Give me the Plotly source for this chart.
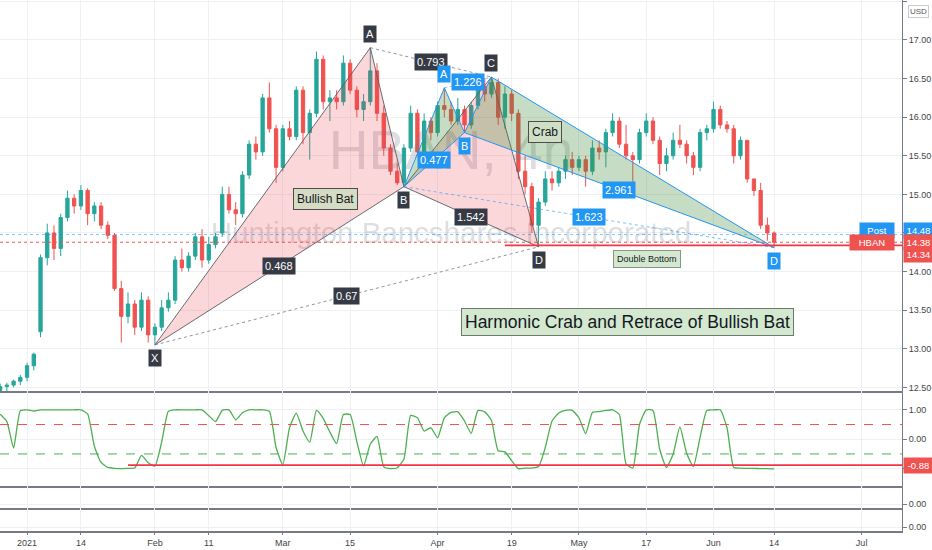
import pandas as pd
import plotly.graph_objects as go
from plotly.subplots import make_subplots

# ------------------------------------------------
# Calendar: one bar per NYSE session (index axis, like TradingView)
# ------------------------------------------------
holidays = ["2021-01-01", "2021-01-18", "2021-02-15", "2021-04-02", "2021-05-31"]
sessions = [d.strftime("%Y-%m-%d") for d in pd.bdate_range("2020-12-28", "2021-07-09")
            if d.strftime("%Y-%m-%d") not in holidays]
bar = {d: i for i, d in enumerate(sessions)}

# ------------------------------------------------
# Data - HBAN, Dec 28 2020 .. Jun 14 2021
# ------------------------------------------------
opens = [
    12.46, 12.51, 12.53, 12.58,
    12.63, 12.78, 13.22, 14.18, 14.50, 14.30, 14.70, 14.95, 14.85, 15.05,
    14.75, 14.85, 14.60, 14.47, 13.78, 13.42, 13.58, 13.28, 13.63, 13.18,
    13.28, 13.53, 13.63, 14.15, 14.05, 14.20, 14.45, 14.15, 14.35, 14.50,
    15.00, 14.80, 14.75, 15.25, 15.65, 15.55, 16.25, 15.85, 15.35, 15.85,
    15.75, 16.35, 15.80, 16.05, 16.75, 16.20, 16.25, 16.20, 16.70, 16.35,
    16.10, 16.20, 16.60, 16.05, 15.60, 15.30, 15.15, 15.60, 16.05, 15.55,
    15.95, 15.80, 16.15, 16.10, 15.95, 16.10, 15.90, 16.15, 16.40, 16.30,
    16.45, 16.00, 16.30, 16.05, 15.30, 15.10, 14.60, 14.90, 15.20, 15.15,
    15.30, 15.45, 15.35, 15.45, 15.30, 15.60, 15.55, 15.80, 15.95, 15.65,
    15.50, 15.45, 15.80, 15.95, 15.70, 15.40, 15.50, 15.70, 15.65, 15.50,
    15.35, 15.80, 15.85, 16.10, 15.90, 15.85, 15.50, 15.70, 15.20, 15.05, 14.60, 14.50,
]
highs = [
    12.55, 12.56, 12.60, 12.66,
    12.82, 12.95, 14.22, 14.62, 14.60, 14.75, 15.05, 15.00, 15.12, 15.08,
    14.90, 14.90, 14.65, 14.50, 13.88, 13.73, 13.63, 13.73, 13.68, 13.33,
    13.63, 13.73, 14.20, 14.30, 14.25, 14.50, 14.55, 14.45, 14.50, 15.10,
    15.10, 14.90, 15.30, 15.70, 15.75, 16.30, 16.45, 15.90, 15.90, 15.95,
    16.40, 16.40, 16.10, 16.85, 16.80, 16.35, 16.35, 16.80, 16.75, 16.40,
    16.30, 16.90, 16.70, 16.15, 15.65, 15.40, 15.65, 16.15, 16.10, 16.05,
    16.00, 16.20, 16.38, 16.20, 16.25, 16.15, 16.20, 16.45, 16.50, 16.52,
    16.50, 16.40, 16.35, 16.10, 15.50, 15.15, 14.95, 15.30, 15.30, 15.35,
    15.50, 15.55, 15.50, 15.50, 15.70, 15.70, 15.85, 16.05, 16.00, 15.90,
    15.55, 15.85, 16.05, 16.00, 15.75, 15.60, 15.80, 15.90, 15.70, 15.55,
    15.85, 15.90, 16.20, 16.15, 15.95, 15.90, 15.75, 15.70, 15.20, 15.15, 14.70, 14.52,
]
lows = [
    12.43, 12.45, 12.50, 12.53,
    12.58, 12.72, 13.15, 14.08, 14.15, 14.20, 14.65, 14.75, 14.80, 14.60,
    14.65, 14.55, 14.42, 13.75, 13.08, 13.33, 13.18, 13.23, 13.08, 13.05,
    13.23, 13.48, 13.58, 14.00, 14.00, 14.15, 14.05, 14.10, 14.30, 14.45,
    14.75, 14.60, 14.70, 15.20, 15.45, 15.50, 15.80, 15.15, 15.30, 15.70,
    15.70, 15.65, 15.45, 16.00, 16.10, 15.95, 16.10, 16.15, 16.30, 16.00,
    15.95, 16.15, 15.95, 15.50, 15.25, 15.12, 15.10, 15.55, 15.50, 15.50,
    15.70, 15.75, 16.00, 15.90, 15.90, 15.80, 15.85, 16.10, 16.20, 16.25,
    15.90, 15.85, 15.95, 15.20, 15.00, 14.50, 14.32, 14.85, 15.05, 15.10,
    15.20, 15.25, 15.30, 15.10, 15.25, 15.45, 15.35, 15.75, 15.60, 15.45,
    15.15, 15.40, 15.75, 15.65, 15.25, 15.30, 15.45, 15.60, 15.40, 15.25,
    15.30, 15.70, 15.80, 15.85, 15.80, 15.40, 15.45, 15.15, 14.98, 14.55, 14.40, 14.31,
]
closes = [
    12.51, 12.53, 12.58, 12.63,
    12.78, 12.93, 14.18, 14.50, 14.30, 14.70, 14.95, 14.85, 15.05, 14.75,
    14.85, 14.60, 14.47, 13.78, 13.42, 13.58, 13.28, 13.63, 13.18, 13.28,
    13.53, 13.63, 14.15, 14.05, 14.20, 14.45, 14.15, 14.35, 14.45, 15.00,
    14.80, 14.75, 15.25, 15.65, 15.55, 16.25, 15.85, 15.35, 15.85, 15.75,
    16.35, 15.80, 16.05, 16.75, 16.20, 16.25, 16.20, 16.70, 16.35, 16.10,
    16.20, 16.60, 16.05, 15.60, 15.30, 15.15, 15.60, 16.05, 15.55, 15.95,
    15.80, 16.15, 16.10, 15.95, 16.10, 15.90, 16.15, 16.40, 16.30, 16.45,
    16.00, 16.30, 16.05, 15.30, 15.10, 14.60, 14.90, 15.20, 15.15, 15.30,
    15.45, 15.35, 15.45, 15.30, 15.60, 15.55, 15.80, 15.95, 15.65, 15.50,
    15.45, 15.80, 15.95, 15.70, 15.40, 15.50, 15.70, 15.65, 15.50, 15.35,
    15.80, 15.85, 16.10, 15.90, 15.85, 15.50, 15.70, 15.20, 15.05, 14.60, 14.50, 14.38,
]

# oscillator pane (one reading per session)
osc = [
    0.85, 0.60, -0.30, 0.97,
    1.00, 0.96, 1.00, 1.00, 1.00, 1.00, 1.00, 1.00, 1.00, 0.86,
    -0.24, -0.79, -0.96, -0.99, -1.00, -0.99, -0.98, -0.55, -0.80, -0.91,
    -0.10, 0.95, 1.00, 1.00, 1.00, 1.00, 1.00, 0.80, 0.60, 0.98,
    1.00, 0.66, 0.90, 1.00, 1.00, 1.00, 0.95, -0.28, -0.87, 0.39,
    0.89, 0.28, -0.10, 0.98, 0.71, 0.24, -0.15, 0.84, 0.84, -0.08,
    -0.91, -0.17, 0.10, -0.94, -1.00, -0.97, -0.67, 0.81, 0.73, 0.28,
    0.39, 0.05, 0.73, 0.91, 0.93, 0.62, 0.20, 0.98, 0.93, 0.64,
    -0.39, -0.43, -0.73, -1.00, -0.98, -0.98, -0.93, -0.28, 0.62, 0.89,
    0.98, 0.98, 0.73, 0.19, 0.91, 0.94, 0.98, 1.00, 0.84, -0.84,
    -0.98, 0.50, 1.00, 0.98, -0.34, -0.96, -0.50, 0.42, -0.48, -0.93,
    0.06, 0.98, 1.00, 1.00, 0.39, -0.96, -0.98, -0.99, -0.99, -1.00, -1.00, -1.01,
]

# harmonic patterns: (session, price)
bat = {"X": ("2021-02-01", 13.05), "A": ("2021-03-18", 16.90), "B": ("2021-03-25", 15.10),
       "C": ("2021-04-14", 16.52), "D": ("2021-04-23", 14.32)}
bat_ratios = {"XB": "0.468", "AC": "0.793", "BD": "1.542", "XD": "0.67"}
crab = {"X": ("2021-03-25", 15.10), "A": ("2021-04-05", 16.38), "B": ("2021-04-08", 15.80),
        "C": ("2021-04-14", 16.52), "D": ("2021-06-14", 14.31)}
crab_ratios = {"XB": "0.477", "AC": "1.226", "BD": "2.961", "XD": "1.623"}

post_price = 14.48
last_close = 14.38
double_bottom = 14.34
double_bottom_from = "2021-04-16"
osc_level = -0.88
osc_level_from = "2021-01-26"

tick_dates = ["2021-01-04", "2021-01-14", "2021-02-01", "2021-02-11", "2021-03-01", "2021-03-15",
              "2021-04-01", "2021-04-19", "2021-05-03", "2021-05-17", "2021-06-01", "2021-06-14",
              "2021-07-01"]
tick_text = ["2021", "14", "Feb", "11", "Mar", "15", "Apr", "19", "May", "17", "Jun", "14", "Jul"]
price_ticks = [12.5, 13.0, 13.5, 14.0, 14.5, 15.0, 15.5, 16.0, 16.5, 17.0, 17.5]

# ------------------------------------------------
# Styling
# ------------------------------------------------
UP, DOWN = "#26a69a", "#ef5350"
GRID = "#eef0f4"
AXIS = "#787b86"
FONT = "Liberation Sans, Arial, sans-serif"
TICK_FONT = dict(family=FONT, size=9, color="#444")

x_range = [-0.02, 134.0]
price_range = [12.453, 17.518]
osc_range = [-1.59, 1.64]

fig = make_subplots(rows=4, cols=1, shared_xaxes=True, vertical_spacing=0,
                    row_heights=[391, 95, 22, 23])

# watermark (drawn first so it sits behind the candles)
x_mid = sum(x_range) / 2
fig.add_trace(go.Scatter(x=[x_mid, x_mid], y=[15.51, 14.46], mode="text",
                         text=["HBAN, 4h", "Huntington Bancshares Incorporated"],
                         textfont=dict(family=FONT, size=[55, 29.5], color="rgba(120,123,134,0.26)"),
                         hoverinfo="skip", showlegend=False), row=1, col=1)

fig.add_trace(go.Candlestick(
    x=list(range(len(closes))), open=opens, high=highs, low=lows, close=closes,
    increasing=dict(line=dict(color=UP, width=1), fillcolor=UP),
    decreasing=dict(line=dict(color=DOWN, width=1), fillcolor=DOWN),
    whiskerwidth=0, showlegend=False), row=1, col=1)


def pt(pattern, key):
    d, p = pattern[key]
    return bar[d], p


def draw_pattern(pattern, line_color, fill_color, dot_color):
    for tri in (("X", "A", "B"), ("B", "C", "D")):
        xs = [pt(pattern, k)[0] for k in tri + (tri[0],)]
        ys = [pt(pattern, k)[1] for k in tri + (tri[0],)]
        fig.add_trace(go.Scatter(x=xs, y=ys, mode="lines", fill="toself", fillcolor=fill_color,
                                 line=dict(color=line_color, width=1), hoverinfo="skip",
                                 showlegend=False), row=1, col=1)
    for a, b in (("A", "C"), ("X", "D")):
        fig.add_trace(go.Scatter(x=[pt(pattern, a)[0], pt(pattern, b)[0]],
                                 y=[pt(pattern, a)[1], pt(pattern, b)[1]], mode="lines",
                                 line=dict(color=dot_color, width=1, dash="dot"),
                                 hoverinfo="skip", showlegend=False), row=1, col=1)


draw_pattern(bat, "rgba(90,92,100,0.9)", "rgba(242,54,69,0.2)", "rgba(120,123,134,0.8)")
draw_pattern(crab, "#2196f3", "rgba(67,140,60,0.3)", "rgba(33,150,243,0.6)")

# oscillator
fig.add_trace(go.Scatter(x=list(range(len(osc))), y=osc, mode="lines",
                         line=dict(color="#4caf50", width=1.3, shape="spline", smoothing=0.5),
                         hoverinfo="skip", showlegend=False), row=2, col=1)

# two empty study panes (kept so the panes get drawn)
for r in (3, 4):
    fig.add_trace(go.Scatter(x=[None], y=[None], mode="lines", hoverinfo="skip",
                             showlegend=False), row=r, col=1)

# price lines
fig.add_hline(y=post_price, line=dict(color="rgba(33,150,243,0.55)", width=1, dash="dot"), row=1, col=1)
fig.add_hline(y=last_close, line=dict(color=DOWN, width=1, dash="dot"), row=1, col=1)
fig.add_shape(type="line", xref="x", yref="y", x0=bar[double_bottom_from], x1=x_range[1],
              y0=double_bottom, y1=double_bottom, line=dict(color="#f23645", width=1.6))
fig.add_hline(y=0.5, line=dict(color=DOWN, width=1, dash="dash"), row=2, col=1)
fig.add_hline(y=-0.5, line=dict(color="#4caf50", width=1, dash="dash"), row=2, col=1)
fig.add_shape(type="line", xref="x2", yref="y2", x0=bar[osc_level_from], x1=x_range[1],
              y0=osc_level, y1=osc_level, line=dict(color="#f23645", width=1.6))

# ------------------------------------------------
# Annotations
# ------------------------------------------------
ann = []


def note(text, x, y, size, bg, border="#4a4f4a"):
    ann.append(dict(x=x, y=y, xref="x", yref="y", text=text, showarrow=False,
                    font=dict(family=FONT, size=size, color="#131722"),
                    bgcolor=bg, bordercolor=border, borderwidth=1, borderpad=3))


note("Bullish Bat", 48.3, 14.94, 12, "#d5dcc3")
note("Crab", 81.0, 15.81, 12, "#cfdfc6")
note("Double Bottom", 96.1, 14.16, 9, "#d4e8d0", "#8a968a")
note("Harmonic Crab and Retrace of Bullish Bat", 93.2, 13.35, 17.5, "#d4e8d0", "#6b7a6b")


def ratio_labels(pattern, ratios, bg):
    for key, txt in ratios.items():
        (x0, y0), (x1, y1) = pt(pattern, key[0]), pt(pattern, key[1])
        ann.append(dict(x=(x0 + x1) / 2, y=(y0 + y1) / 2, xref="x", yref="y", text=txt,
                        showarrow=False, font=dict(family=FONT, size=11, color="white"),
                        bgcolor=bg, borderpad=2))


def point_labels(pattern, keys, bg):
    for k in keys:
        x, y = pt(pattern, k)
        above = k in ("A", "C")
        ann.append(dict(x=x, y=y, xref="x", yref="y", text=k, showarrow=False,
                        yshift=14 if above else -13,
                        font=dict(family=FONT, size=11, color="white"),
                        bgcolor=bg, borderpad=2))


ratio_labels(crab, crab_ratios, "#2196f3")
ratio_labels(bat, bat_ratios, "#363a45")
point_labels(crab, ["A", "B", "D"], "#2196f3")
point_labels(bat, ["X", "A", "B", "C", "D"], "#363a45")

# right-axis price tags
for val, name, width, color, yref, shift in [(post_price, "Post", 30, "#2196f3", "y", 4),
                                             (last_close, "HBAN", 40, DOWN, "y", 0),
                                             (double_bottom, None, 0, DOWN, "y", -9),
                                             (osc_level, None, 0, DOWN, "y2", 0)]:
    ann.append(dict(x=1, xref="paper", y=val, yref=yref, xanchor="left", xshift=1, yshift=shift,
                    text=f"{val:.2f}", showarrow=False, bgcolor=color, borderpad=2, width=25,
                    font=dict(family=FONT, size=9.5, color="white")))
    if name:
        ann.append(dict(x=1, xref="paper", y=val, yref=yref, xanchor="right", xshift=-7,
                        yshift=shift, text=name, showarrow=False, bgcolor=color, borderpad=2,
                        width=width, align="center",
                        font=dict(family=FONT, size=9.5, color="white")))

ann.append(dict(x=1, xref="paper", y=1, yref="paper", xanchor="left", yanchor="top", xshift=6,
                yshift=-5, text="USD", showarrow=False, bordercolor="#c8cbd2", borderwidth=1,
                borderpad=1, bgcolor="white", font=dict(family=FONT, size=8, color="#555")))

# ------------------------------------------------
# Axes & layout
# ------------------------------------------------
fig.update_xaxes(range=x_range, tickvals=[bar[d] for d in tick_dates], ticktext=tick_text,
                 showgrid=True, gridcolor=GRID, showline=True, linecolor=AXIS, linewidth=1.5,
                 zeroline=False, showticklabels=False, rangeslider_visible=False)
fig.update_xaxes(showticklabels=True, ticks="outside", ticklen=2, tickcolor=AXIS,
                 tickfont=TICK_FONT, row=4, col=1)

fig.update_yaxes(side="right", showgrid=True, gridcolor=GRID, showline=True, linecolor=AXIS,
                 linewidth=1, ticks="outside", ticklen=4, tickcolor=AXIS, zeroline=False,
                 tickfont=TICK_FONT)
fig.update_yaxes(range=price_range, tickvals=price_ticks,
                 ticktext=[f"{v:.2f}" for v in price_ticks], row=1, col=1)
fig.update_yaxes(range=osc_range, tickvals=[1, 0, -1], ticktext=["1.00", "0.00", "-1.00"],
                 row=2, col=1)
for r in (3, 4):
    fig.update_yaxes(range=[-0.2, 1], tickvals=[0], ticktext=["0.00"], row=r, col=1)

fig.update_layout(width=932, height=550, margin=dict(l=0, r=30, t=0, b=19),
                  paper_bgcolor="white", plot_bgcolor="white", showlegend=False,
                  annotations=list(fig.layout.annotations) + ann)

# page body margin would otherwise push the figure 8px down/right
fig.write_html("out.html", config={"displayModeBar": False},
               post_script="document.body.style.margin='0px';")
